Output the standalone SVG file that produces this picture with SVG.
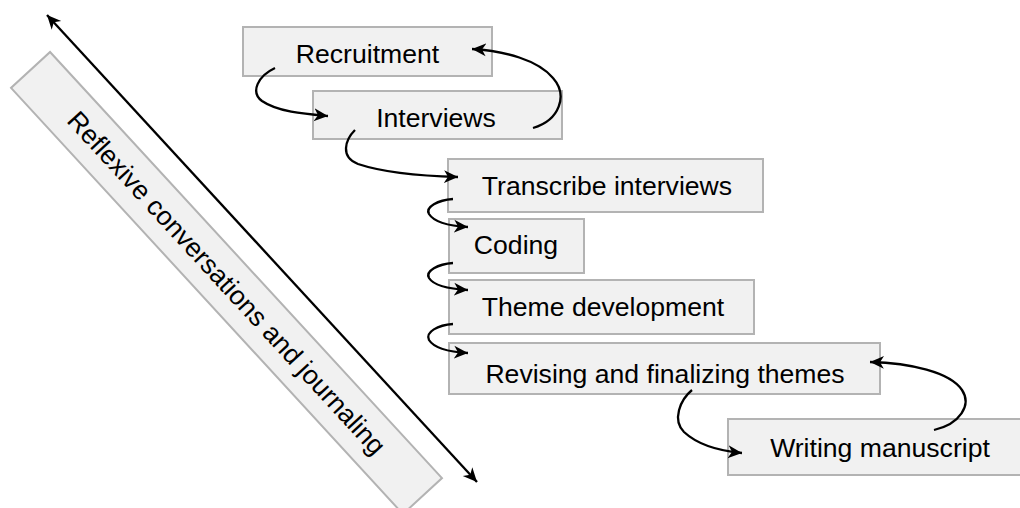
<svg xmlns="http://www.w3.org/2000/svg" width="1020" height="508" viewBox="0 0 1020 508">
<style>
.box{fill:#f1f1f1;stroke:#b3b3b3;stroke-width:2}
.lbl{font-family:"Liberation Sans",Arial,sans-serif;font-size:26.6px;fill:#000;text-anchor:middle}
.con{fill:none;stroke:#000;stroke-width:2.3}
</style>
<defs>
<marker id="ah" markerUnits="userSpaceOnUse" markerWidth="16" markerHeight="14" refX="14" refY="7" orient="auto-start-reverse" viewBox="0 0 16 14">
<path d="M0,0.5 L14,7 L0,13.5 L4,7 z" fill="#000"/>
</marker>
</defs>
<g id="reflexive">
<rect class="box" x="-289.5" y="-26.5" width="579" height="53" transform="translate(226.5,283) rotate(47.4)"/>
<text class="lbl" transform="translate(226.5,283) rotate(47.4)" x="0" y="9">Reflexive conversations and journaling</text>
</g>
<g id="recruitment">
<rect class="box" x="243" y="27" width="249" height="49"/>
<text class="lbl" x="367.5" y="63">Recruitment</text>
</g>
<g id="interviews">
<rect class="box" x="313" y="91" width="249" height="48"/>
<text class="lbl" x="436" y="127">Interviews</text>
</g>
<g id="transcribe">
<rect class="box" x="448" y="159" width="315" height="53"/>
<text class="lbl" x="607" y="195">Transcribe interviews</text>
</g>
<g id="coding">
<rect class="box" x="449" y="219" width="135" height="54"/>
<text class="lbl" x="516" y="254">Coding</text>
</g>
<g id="theme">
<rect class="box" x="449" y="280" width="305" height="54"/>
<text class="lbl" x="603" y="316">Theme development</text>
</g>
<g id="revising">
<rect class="box" x="449" y="343" width="431" height="51"/>
<text class="lbl" x="665" y="383">Revising and finalizing themes</text>
</g>
<g id="writing">
<rect class="box" x="728" y="419" width="304" height="56"/>
<text class="lbl" x="880" y="457">Writing manuscript</text>
</g>
<g id="connectors">
<path class="con" d="M47,15 L477,482" marker-start="url(#ah)" marker-end="url(#ah)"/>
<path class="con" d="M275,68 C258,76 250,92 262,101 C278,112 305,114 328,116" marker-end="url(#ah)"/>
<path class="con" d="M533,128 C560,120 568,95 553,78 C538,60 505,51 472,49" marker-end="url(#ah)"/>
<path class="con" d="M355,130 C345,140 340,157 358,164 C385,173 420,176 458,177" marker-end="url(#ah)"/>
<path class="con" d="M453,199 C438,200 425,207 429,214 C434,222 450,226 468,227" marker-end="url(#ah)"/>
<path class="con" d="M453,263 C438,264 425,271 429,278 C434,286 450,289 468,290" marker-end="url(#ah)"/>
<path class="con" d="M453,324 C438,325 425,332 429,340 C434,348 450,352 468,353" marker-end="url(#ah)"/>
<path class="con" d="M692,390 C680,400 672,420 684,432 C698,445 720,451 742,453" marker-end="url(#ah)"/>
<path class="con" d="M934,430 C960,424 972,405 962,390 C950,372 910,363 870,362" marker-end="url(#ah)"/>
</g>
</svg>
